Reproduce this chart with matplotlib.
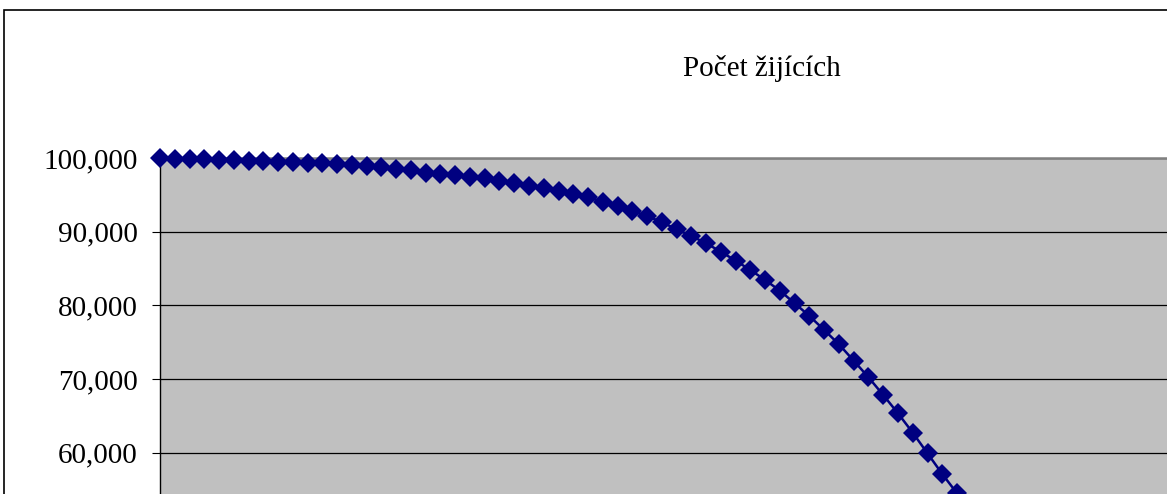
import matplotlib
matplotlib.use('Agg')  # Non-interactive backend
import matplotlib.pyplot as plt
from matplotlib.patches import Rectangle
from matplotlib.ticker import FuncFormatter

# Survivors by age (only the part visible in the cropped chart)
ages = list(range(56))
survivors = [
    100000, 99905, 99864, 99824, 99729, 99688, 99634, 99552, 99498, 99416,
    99362, 99281, 99186, 99091, 98955, 98779, 98575, 98330, 98005, 97829,
    97693, 97462, 97245, 96920, 96605, 96241, 95970, 95522, 95156, 94667,
    94070, 93486, 92808, 92129, 91288, 90325, 89415, 88425, 87285, 86064,
    84802, 83445, 81993, 80283, 78559, 76660, 74719, 72494, 70241, 67839,
    65356, 62723, 59928, 57119, 54500, 51750,
]
y_ticks = [60000, 70000, 80000, 90000, 100000]
title = "Počet žijících"

W, H = 1167, 494
fig = plt.figure(figsize=(W / 100, H / 100), dpi=100)
plt.rcParams['font.family'] = ['Liberation Serif', 'DejaVu Serif']

# outer chart-area border (chart is cropped on right and bottom)
fig.patches.append(Rectangle((4 / W, -1), 2, 1 - 10 / H + 1, transform=fig.transFigure,
                             fill=False, edgecolor='black', linewidth=1.2))

# plot area geometry in pixels
px_left, px_top = 160, 158
px_per_10k = 73.7
px_per_age = 14.76
x_max, y_max = 90, 100000
ax_h = px_per_10k * y_max / 10000
ax_w = px_per_age * x_max
ax = fig.add_axes([px_left / W, 1 - (px_top + ax_h) / H, ax_w / W, ax_h / H])
ax.set_facecolor('#C0C0C0')

ax.plot(ages, survivors, color='#000080', linewidth=1.8, marker='D',
        markersize=10.2, markeredgewidth=0, clip_on=False, zorder=3)

ax.set_xlim(0, x_max)
ax.set_ylim(0, y_max)
ax.set_yticks(y_ticks)
ax.yaxis.set_major_formatter(FuncFormatter(lambda v, p: f"{v:,.0f}"))
ax.grid(axis='y', color='black', linewidth=0.9)
ax.set_axisbelow(True)
ax.tick_params(axis='y', direction='out', length=6, width=0.8, pad=10, labelsize=21)
ax.tick_params(axis='x', bottom=False, labelbottom=False)

ax.spines['top'].set_color('#808080')
ax.spines['top'].set_linewidth(1.8)
ax.spines['right'].set_color('#808080')
ax.spines['left'].set_color('black')
ax.spines['left'].set_linewidth(1.0)

fig.text(762 / W, 1 - 68 / H, title, ha='center', va='center', fontsize=21)

fig.savefig('out.png', dpi=100)
